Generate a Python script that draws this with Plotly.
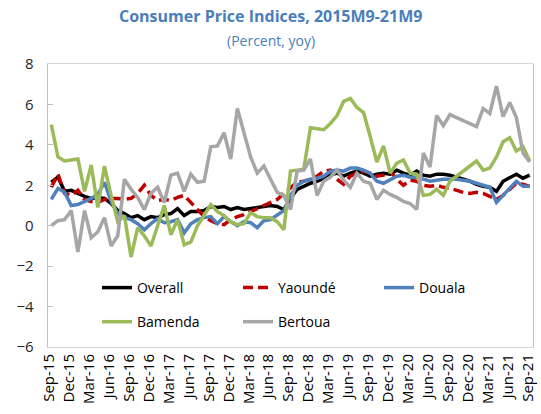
import plotly.graph_objects as go

# ---- data (yoy % change), monthly Sep-2015 .. Sep-2021 ----
tick_labels = ["Sep-15", "Dec-15", "Mar-16", "Jun-16", "Sep-16", "Dec-16", "Mar-17",
               "Jun-17", "Sep-17", "Dec-17", "Mar-18", "Jun-18", "Sep-18", "Dec-18",
               "Mar-19", "Jun-19", "Sep-19", "Dec-19", "Mar-20", "Jun-20", "Sep-20",
               "Dec-20", "Mar-21", "Jun-21", "Sep-21"]

overall = [2.15, 2.4, 1.7, 1.75, 1.6, 1.45, 1.35, 1.4, 1.35, 1.1, 0.75, 0.6, 0.4, 0.5, 0.3, 0.45, 0.4, 0.55,
           0.6, 0.85, 0.5, 0.7, 0.7, 0.75, 0.95, 0.9, 0.95, 0.8, 0.9, 0.8, 0.85, 0.9, 0.95, 1.0, 0.95, 0.8,
           1.35, 1.8, 1.95, 2.1, 2.2, 2.35, 2.5, 2.6, 2.45, 2.6, 2.7, 2.6, 2.45, 2.55, 2.6, 2.55, 2.75, 2.6,
           2.5, 2.7, 2.5, 2.45, 2.55, 2.55, 2.5, 2.4, 2.3, 2.2, 2.05, 1.95, 1.9, 1.7, 2.2, 2.4, 2.55, 2.35, 2.5]

yaounde = [1.9, 2.55, 1.6, 1.5, 1.75, 1.3, 1.2, 1.15, 1.3, 1.35, 1.35, 1.3, 1.35, 1.6, 2.0, 1.5, 1.25, 1.3,
           1.25, 1.4, 1.5, 1.15, 0.75, 0.45, 0.25, 0.1, 0.05, 0.3, 0.45, 0.55, 0.7, 0.85, 1.0, 1.15, 1.3, 1.6,
           1.9, 2.15, 2.2, 2.3, 2.45, 2.7, 2.75, 2.3, 2.05, 2.45, 2.6, 2.7, 2.6, 2.45, 2.5, 2.7, 2.3, 2.0,
           2.25, 2.2, 2.0, 1.95, 2.0, 1.9, 1.85, 1.75, 1.65, 1.6, 1.65, 1.6, 1.45, 1.3, 1.5, 1.8, 2.1, 2.05, 1.95]

douala = [1.3, 1.85, 1.65, 1.0, 1.05, 1.2, 1.35, 1.55, 2.15, 1.2, 0.6, 0.4, 0.3, 0.1, -0.2, 0.1, 0.35, 0.15,
          0.2, 0.3, -0.35, 0.1, 0.3, 0.4, 0.45, 0.1, 0.45, 0.2, 0.0, 0.2, 0.15, -0.1, 0.25, 0.3, 0.55, 0.75,
          1.5, 2.0, 2.2, 2.3, 2.35, 2.45, 2.7, 2.75, 2.7, 2.85, 2.85, 2.75, 2.6, 2.2, 2.1, 2.3, 2.45, 2.5,
          2.4, 2.4, 2.3, 2.2, 2.25, 2.3, 2.3, 2.3, 2.25, 2.2, 2.1, 2.0, 1.9, 1.15, 1.5, 1.85, 2.2, 1.95, 1.95]

bamenda = [5.0, 3.4, 3.2, 3.25, 3.3, 1.7, 3.0, 0.9, 2.95, 1.5, 0.2, 0.5, -1.55, -0.1, -0.5, -1.0, 0.0, 1.0,
           -0.45, 0.3, -0.95, -0.8, 0.0, 0.5, 1.05, 0.7, 0.5, 0.2, 0.05, 0.1, 0.65, 0.45, 0.4, 0.4, 0.2, -0.2,
           2.7, 2.75, 2.8, 4.85, 4.8, 4.75, 5.05, 5.45, 6.15, 6.3, 5.85, 5.6, 4.4, 3.15, 3.95, 2.6, 3.1, 3.25,
           2.6, 2.55, 1.5, 1.55, 1.8, 1.5, 2.2, 2.45, 2.7, 2.95, 3.2, 2.75, 2.85, 3.4, 4.15, 4.35, 3.7, 3.9, 3.2]

bertoua = [0.0, 0.25, 0.3, 0.75, -1.3, 0.75, -0.6, -0.3, 0.4, -1.0, -0.5, 2.3, 1.8, 1.4, 0.8, 1.6, 1.9, 1.15,
           2.5, 2.6, 1.7, 2.55, 2.15, 2.2, 3.9, 3.95, 4.6, 3.3, 5.8, 4.6, 3.4, 2.6, 2.95, 2.3, 1.65, 1.5,
           0.8, 2.7, 2.75, 3.3, 1.5, 2.2, 2.4, 2.75, 2.25, 1.9, 2.6, 2.2, 2.1, 1.3, 1.75, 1.55, 1.4, 1.2,
           1.1, 0.8, 3.6, 2.9, 5.45, 4.95, 5.5, 5.35, 5.2, 5.05, 4.9, 5.8, 5.55, 6.9, 5.4, 6.1, 5.35, 3.6, 3.15]

n = len(overall)
x = list(range(n))
label_step = 3
label_pos = list(range(0, n, label_step))
boundary_pos = [p - 0.5 for p in label_pos]

FONT = "Open Sans"
TITLE_BLUE = "#4A7EBB"

series = [
    ("Overall", overall, dict(color="#000000", width=3.5), "legend"),
    ("Yaoundé", yaounde, dict(color="#C00000", width=3.5, dash="10px,5px"), "legend"),
    ("Douala", douala, dict(color="#4F81BD", width=3.5), "legend"),
    ("Bamenda", bamenda, dict(color="#9BBB59", width=3.5), "legend2"),
    ("Bertoua", bertoua, dict(color="#A6A6A6", width=3.5), "legend2"),
]

fig = go.Figure()
for name, vals, line, leg in series:
    fig.add_trace(go.Scatter(x=x, y=vals, mode="lines", name=name, line=line,
                             legend=leg, hoverinfo="skip"))

y_min, y_max = -6, 8
fig.update_layout(
    width=541, height=414,
    margin=dict(l=48, r=8, t=64, b=67, autoexpand=False),
    paper_bgcolor="white", plot_bgcolor="white",
    font=dict(family=FONT, size=14, color="#000000"),
    showlegend=True,
    xaxis=dict(range=[-0.5, n - 0.5], tickmode="array", tickvals=label_pos,
               ticktext=tick_labels, tickangle=-90, ticks="", automargin=False,
               showline=True, linecolor="#D9D9D9", linewidth=1, mirror=True,
               showgrid=False, zeroline=False, ticklabelshift=-2,
               tickfont=dict(family=FONT, size=15, color="#000000")),
    xaxis2=dict(overlaying="x", anchor="free", automargin=False,
                position=(0 - y_min) / (y_max - y_min),
                range=[-0.5, n - 0.5], tickmode="array", tickvals=boundary_pos,
                showticklabels=False, ticks="inside", ticklen=5, tickcolor="#BFBFBF",
                showline=True, linecolor="#BFBFBF", linewidth=1.3,
                showgrid=False, zeroline=False),
    yaxis=dict(range=[y_min, y_max], dtick=2, tick0=0, ticks="inside", ticklen=5,
               tickcolor="#BFBFBF", showline=True, linecolor="#BFBFBF", linewidth=1.3,
               mirror=True, showgrid=False, zeroline=False, ticklabelstandoff=10,
               automargin=False,
               tickfont=dict(family=FONT, size=15, color="#262626")),
    legend=dict(orientation="h", x=0.101, xanchor="left", y=0.2085, yanchor="middle",
                entrywidth=96, bgcolor="rgba(0,0,0,0)",
                font=dict(family=FONT, size=14, color="#000000")),
    legend2=dict(orientation="h", x=0.101, xanchor="left", y=0.088, yanchor="middle",
                 entrywidth=96, bgcolor="rgba(0,0,0,0)",
                 font=dict(family=FONT, size=14, color="#000000")),
    annotations=[
        dict(text="<b>Consumer Price Indices, 2015M9-21M9</b>", xref="paper", yref="paper",
             x=(270.5 - 48) / 485, y=1 + (64 - 16) / 283, xanchor="center", yanchor="middle",
             showarrow=False, font=dict(family=FONT, size=16, color=TITLE_BLUE)),
        dict(text="(Percent, yoy)", xref="paper", yref="paper",
             x=(270.5 - 48) / 485, y=1 + (64 - 40) / 283, xanchor="center", yanchor="middle",
             showarrow=False, font=dict(family=FONT, size=14, color=TITLE_BLUE)),
    ],
)

fig.write_html("out.html", config={"displayModeBar": False, "staticPlot": True},
               post_script="document.body.style.margin='0';document.body.style.padding='0';")
